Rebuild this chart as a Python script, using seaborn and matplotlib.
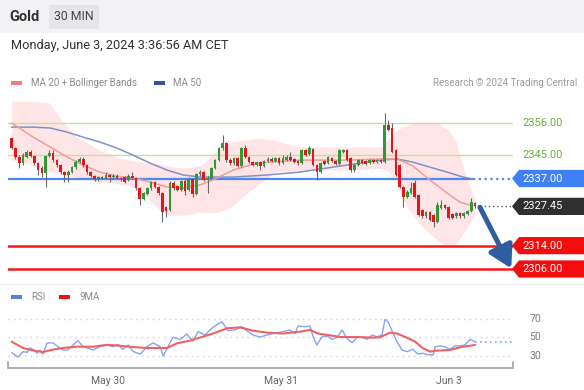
import matplotlib
matplotlib.use("Agg")
import matplotlib.pyplot as plt
import seaborn as sns
import numpy as np
import pandas as pd
from matplotlib.patches import Polygon, Rectangle
from matplotlib.transforms import blended_transform_factory

# ---------------- data ----------------
opens = [2350.9, 2347.4, 2344.4, 2342.3, 2344.4, 2346.1, 2344.7, 2342.3, 2340.6, 2338.9,
         2344.7, 2345.7, 2343.3, 2341.6, 2339.2, 2338.2, 2339.2, 2340.9, 2342.6, 2343.7,
         2341.6, 2339.2, 2337.9, 2336.8, 2337.5, 2337.2, 2338.2, 2337.5, 2337.9, 2337.2,
         2337.5, 2336.5, 2337.9, 2337.2, 2333.7, 2330.0, 2331.7, 2333.7, 2335.8, 2334.1,
         2332.0, 2327.2, 2326.2, 2335.5, 2334.4, 2333.1, 2336.1, 2333.1, 2336.8, 2331.7,
         2338.5, 2339.2, 2336.5, 2337.2, 2340.6, 2343.3, 2347.4, 2349.2, 2343.3, 2342.3,
         2344.0, 2341.3, 2347.4, 2344.4, 2342.6, 2341.6, 2342.6, 2341.3, 2343.0, 2343.7,
         2343.0, 2344.0, 2342.3, 2343.3, 2344.4, 2343.7, 2343.0, 2342.3, 2346.8, 2345.4,
         2347.1, 2341.6, 2339.2, 2343.0, 2342.3, 2344.0, 2343.0, 2342.0, 2346.1, 2346.8,
         2344.0, 2339.9, 2341.6, 2343.3, 2343.0, 2342.3, 2343.3, 2342.6, 2343.3, 2342.6,
         2355.3, 2354.3, 2346.8, 2341.6, 2334.1, 2330.7, 2332.0, 2335.5, 2331.3, 2326.2,
         2324.1, 2325.5, 2324.5, 2322.1, 2326.9, 2327.9, 2327.2, 2324.8, 2324.1, 2325.2,
         2324.1, 2324.8, 2325.8, 2328.6]
highs = [2351.2, 2347.8, 2345.0, 2345.6, 2346.8, 2346.8, 2345.2, 2342.8, 2341.2, 2345.2,
         2346.8, 2346.8, 2343.8, 2342.0, 2339.6, 2339.8, 2341.4, 2343.2, 2344.4, 2344.2,
         2342.0, 2339.6, 2338.3, 2338.0, 2338.0, 2339.2, 2338.6, 2338.4, 2338.4, 2337.6,
         2338.0, 2338.4, 2339.2, 2337.6, 2334.2, 2332.5, 2334.2, 2336.3, 2336.3, 2334.6,
         2332.5, 2327.7, 2336.0, 2336.0, 2334.9, 2336.6, 2336.8, 2337.5, 2337.2, 2339.0,
         2339.9, 2339.6, 2337.7, 2341.0, 2343.8, 2347.9, 2351.9, 2349.6, 2344.0, 2344.5,
         2344.4, 2347.9, 2348.5, 2344.8, 2343.0, 2343.0, 2343.0, 2343.5, 2344.2, 2344.2,
         2344.5, 2344.4, 2345.0, 2344.9, 2346.1, 2344.1, 2343.4, 2347.2, 2347.2, 2348.1,
         2347.5, 2342.0, 2342.8, 2343.4, 2344.8, 2344.4, 2343.4, 2347.2, 2347.2, 2347.2,
         2344.4, 2342.0, 2343.8, 2343.7, 2343.4, 2343.8, 2343.7, 2343.8, 2343.7, 2359.4,
         2357.0, 2356.0, 2347.2, 2342.0, 2334.6, 2332.9, 2335.8, 2336.5, 2331.8, 2326.6,
         2326.0, 2326.0, 2324.9, 2328.9, 2329.6, 2328.4, 2327.6, 2325.2, 2325.6, 2325.6,
         2325.6, 2326.3, 2330.3, 2329.0]
lows = [2347.0, 2343.8, 2340.6, 2341.8, 2344.0, 2344.2, 2341.8, 2338.2, 2337.5, 2334.1,
        2344.2, 2342.8, 2341.0, 2338.6, 2335.8, 2335.8, 2338.8, 2340.4, 2342.2, 2341.0,
        2338.6, 2337.4, 2336.3, 2336.3, 2336.7, 2336.8, 2335.8, 2337.0, 2336.7, 2336.3,
        2335.3, 2336.0, 2336.7, 2333.2, 2327.9, 2329.5, 2331.2, 2333.2, 2333.6, 2331.5,
        2322.1, 2323.8, 2325.7, 2333.2, 2332.6, 2332.6, 2331.3, 2332.6, 2330.7, 2331.2,
        2338.0, 2336.0, 2332.0, 2336.7, 2340.2, 2343.0, 2346.9, 2342.8, 2341.6, 2341.8,
        2340.8, 2340.9, 2344.0, 2342.2, 2341.2, 2341.2, 2339.9, 2340.9, 2342.6, 2342.6,
        2342.6, 2341.8, 2341.9, 2342.9, 2342.9, 2342.2, 2341.8, 2341.9, 2344.6, 2345.0,
        2341.2, 2336.5, 2338.8, 2341.6, 2341.9, 2342.6, 2341.6, 2341.6, 2345.6, 2342.9,
        2339.2, 2339.4, 2341.2, 2341.9, 2341.6, 2341.9, 2342.2, 2342.2, 2342.2, 2342.2,
        2353.2, 2345.6, 2337.7, 2333.6, 2327.2, 2330.2, 2331.6, 2330.2, 2324.0, 2323.6,
        2323.6, 2322.3, 2320.4, 2321.6, 2326.4, 2326.4, 2323.0, 2323.0, 2323.6, 2323.6,
        2323.6, 2324.4, 2325.4, 2326.9]
closes = [2347.4, 2344.4, 2342.3, 2345.0, 2346.1, 2344.7, 2342.3, 2339.9, 2338.9, 2344.7,
          2345.7, 2343.3, 2341.6, 2339.2, 2338.2, 2339.2, 2340.9, 2342.6, 2343.7, 2341.6,
          2339.2, 2337.9, 2336.8, 2337.5, 2337.2, 2338.2, 2337.5, 2337.9, 2337.2, 2336.8,
          2335.8, 2337.9, 2337.2, 2333.7, 2330.0, 2332.0, 2333.7, 2335.8, 2334.1, 2332.0,
          2325.5, 2325.8, 2335.5, 2333.7, 2333.1, 2336.1, 2332.7, 2336.8, 2331.7, 2338.5,
          2339.2, 2336.5, 2337.2, 2340.6, 2343.3, 2347.4, 2349.2, 2343.3, 2342.3, 2344.0,
          2341.3, 2347.4, 2344.4, 2342.6, 2341.6, 2342.6, 2341.3, 2343.0, 2343.7, 2343.0,
          2344.0, 2342.3, 2344.0, 2344.4, 2343.3, 2342.6, 2342.3, 2346.8, 2345.0, 2347.4,
          2341.6, 2339.2, 2342.3, 2342.0, 2344.4, 2343.0, 2342.0, 2346.8, 2346.8, 2343.3,
          2339.9, 2341.6, 2343.3, 2342.3, 2342.0, 2343.3, 2342.6, 2343.3, 2342.6, 2355.3,
          2353.6, 2346.1, 2338.2, 2334.1, 2330.7, 2332.4, 2333.7, 2330.7, 2324.5, 2324.1,
          2325.5, 2322.8, 2322.1, 2327.9, 2327.9, 2326.9, 2323.5, 2323.5, 2325.2, 2324.1,
          2325.2, 2325.8, 2328.9, 2327.45]

# Bollinger band (MA 20 +/- bands), sampled along the candle index
bb_idx = [0, 5, 10, 13, 17, 23, 28, 32, 36, 39, 42, 46, 50, 54, 58, 62, 66, 70, 74, 78,
          82, 87, 93, 98, 100, 102, 105, 109, 113, 116, 118, 120, 122, 123]
bb_upper = [2363.5, 2363.5, 2362.9, 2357.5, 2351.5, 2347.0, 2344.3, 2343.0, 2342.4, 2342.0,
            2341.1, 2340.6, 2341.3, 2346.0, 2349.6, 2350.2, 2350.8, 2350.0, 2348.5, 2347.8,
            2347.8, 2347.8, 2347.8, 2347.8, 2350.5, 2353.5, 2355.3, 2356.3, 2356.0, 2353.5,
            2349.5, 2340.5, 2333.0, 2329.6]
bb_lower = [2343.3, 2341.8, 2339.3, 2338.5, 2337.5, 2335.9, 2335.4, 2334.2, 2330.5, 2326.5,
            2324.5, 2324.4, 2325.5, 2325.2, 2327.0, 2331.5, 2335.5, 2339.2, 2339.7, 2339.9,
            2339.9, 2339.9, 2340.2, 2340.5, 2339.5, 2336.0, 2327.0, 2320.4, 2315.9, 2313.3,
            2314.5, 2318.5, 2322.5, 2325.0]
ma20_idx = [0, 5.7, 10.2, 14.7, 18.9, 23.4, 28.0, 32.2, 36.7, 41.2, 45.5, 50.0, 53.4, 58.8,
            63.3, 67.8, 76.5, 89.0, 97.8, 102.3, 106.5, 111.0, 115.6, 119.0, 122.5]
ma20_val = [2356.0, 2351.2, 2347.8, 2344.4, 2341.6, 2339.2, 2337.8, 2337.2, 2335.8, 2334.1,
            2333.7, 2334.8, 2336.5, 2339.9, 2341.6, 2342.6, 2343.3, 2343.3, 2343.7, 2343.7,
            2341.3, 2336.5, 2332.0, 2328.9, 2327.6]
ma50_idx = [0, 5.7, 10.2, 14.7, 18.9, 23.4, 28.0, 32.2, 36.7, 41.2, 45.5, 50.0, 54.5, 58.8,
            67.8, 76.5, 80.0, 89.0, 97.8, 102.3, 106.5, 111.0, 115.6, 119.8, 122.5]
ma50_val = [2354.6, 2354.6, 2354.3, 2352.9, 2351.2, 2349.5, 2347.4, 2345.0, 2342.3, 2339.9,
            2338.2, 2337.5, 2337.5, 2337.5, 2338.2, 2339.2, 2339.9, 2341.6, 2343.3, 2343.7,
            2342.6, 2340.9, 2339.2, 2337.5, 2336.8]

# RSI panel
rsi_idx = [0, 1.7, 3, 4.1, 4.9, 5.7, 6.7, 7.5, 8.3, 9.4, 11, 12.3, 13.6, 14.9, 16.3, 17.6,
           18.9, 20.3, 21.6, 23.4, 25.3, 26.9, 28.2, 29.5, 30.9, 32.2, 34.1, 35.9, 37.5, 39.4,
           40.2, 41.5, 42.8, 44.7, 46.5, 48.1, 49.5, 51.3, 53.4, 55.8, 57.4, 59.3, 61.1, 62.7,
           64.1, 65.9, 67.8, 69.4, 72, 73.9, 75.2, 76, 77.9, 79.2, 80, 81, 82.4, 83.7, 85,
           86.4, 87.7, 89, 90.4, 91.7, 93, 94.3, 95.7, 97, 98.3, 99.1, 99.9, 101.3, 102.3,
           103.6, 104.9, 106.5, 107.8, 109.2, 110.5, 111.9, 112.4, 113.7, 115, 116.3, 117.7,
           119, 120.3, 121.7, 123]
rsi_val = [33.6, 29, 34.7, 34, 38.6, 37, 33, 36.5, 32, 44, 44, 40, 36.5, 36.5, 41.8, 46.4,
           40, 38.3, 36.5, 40, 41.8, 40, 42.5, 37.2, 41.8, 35, 32, 40, 44, 40,
           30, 40, 50, 47.5, 53.5, 45.8, 56, 52.5, 60.6, 66.6, 57, 58, 61.3, 56,
           52.4, 50.3, 52.4, 54, 56, 57.7, 54, 62, 61.3, 62, 50.7, 41.8, 50.7, 51.4, 47.8,
           50, 57.8, 48.6, 44.3, 50, 50, 47.8, 52.4, 50.5, 52.4, 69, 66.6, 54, 45.3,
           36.5, 34.7, 37.2, 32.2, 33, 31.3, 31.3, 40, 40.8, 40, 37.2, 40.8,
           40.8, 41.8, 47.8, 45.3]
ma9_idx = [0, 3, 5.7, 8.3, 11, 13.6, 17.3, 21.6, 25.3, 28.8, 32.2, 35.9, 39.4, 41.2, 43.9,
           47.3, 50.8, 53.4, 57.2, 60.6, 64.1, 67.8, 72, 76.5, 79.2, 81.3, 84, 87.2, 91.7,
           95.9, 97.8, 100.4, 102.3, 104.9, 107.1, 109.2, 111.1, 112.9, 116.3, 119.8, 123]
ma9_val = [45.3, 38.6, 36, 34.3, 37, 38.6, 40, 40, 42, 41, 39.6, 38.6, 38.6, 38.6, 43.6,
           46.5, 50.7, 54, 59.6, 60.6, 57, 55, 54, 56, 57.8, 54, 52.4, 50.3, 50.3,
           49.6, 50, 55, 54, 49.6, 45.3, 38.3, 34.7, 35.8, 36.5, 40, 41.8]
rsi_levels = [70, 50, 30]

# levels / labels
resist_levels = [2356.00, 2345.00]
pivot_level = 2337.00
support_levels = [2314.00, 2306.00]
last_price = 2327.45
date_tick_idx = [25.6, 71.5, 116.1]
date_tick_lbl = ["May 30", "May 31", "Jun 3"]

assert len(opens) == len(highs) == len(lows) == len(closes)
assert len(bb_idx) == len(bb_upper) == len(bb_lower)
assert len(rsi_idx) == len(rsi_val) and len(ma9_idx) == len(ma9_val)

# ---------------- style ----------------
sns.set_theme(style="white")
plt.rcParams['font.family'] = ['Roboto', 'DejaVu Sans']

W, H = 584, 390
fig = plt.figure(figsize=(W / 100, H / 100), dpi=100)
fig.patch.set_facecolor("white")

def fx(px):
    return px / W

def fy(py):
    return 1 - py / H

# header band
fig.patches.append(Rectangle((0, fy(33)), 1, 33 / H, transform=fig.transFigure,
                             facecolor="#f3f3f5", edgecolor="none", zorder=0))
fig.text(fx(9), fy(17), "Gold", fontsize=10.5, fontweight="bold", color="#333333",
         va="center", ha="left")
fig.patches.append(Rectangle((fx(49), fy(29)), fx(50), 24 / H, transform=fig.transFigure,
                             facecolor="#e6e6e8", edgecolor="none", zorder=1))
fig.text(fx(74), fy(17), "30 MIN", fontsize=8.8, color="#444444", va="center", ha="center",
         zorder=2)
fig.text(fx(11), fy(46), "Monday, June 3, 2024 3:36:56 AM CET", fontsize=9.2,
         color="#333333", va="center", ha="left")

# legend (price)
fig.patches.append(Rectangle((fx(11), fy(85)), fx(11), 4 / H, transform=fig.transFigure,
                             facecolor="#f47c7c", edgecolor="none"))
fig.text(fx(31), fy(83), "MA 20 + Bollinger Bands", fontsize=7, color="#8a8a8a",
         va="center", ha="left")
fig.patches.append(Rectangle((fx(154), fy(85)), fx(11), 4 / H, transform=fig.transFigure,
                             facecolor="#2c56a0", edgecolor="none"))
fig.text(fx(173), fy(83), "MA 50", fontsize=7, color="#8a8a8a", va="center", ha="left")
fig.text(fx(577), fy(83), "Research \u00a9 2024 Trading Central", fontsize=7,
         color="#9a9a9a", va="center", ha="right")

# legend (RSI)
fig.patches.append(Rectangle((fx(11), fy(299)), fx(11), 4 / H, transform=fig.transFigure,
                             facecolor="#5b7fe0", edgecolor="none"))
fig.text(fx(31), fy(297), "RSI", fontsize=7, color="#8a8a8a", va="center", ha="left")
fig.patches.append(Rectangle((fx(59), fy(299)), fx(11), 4 / H, transform=fig.transFigure,
                             facecolor="#ee1111", edgecolor="none"))
fig.text(fx(79), fy(297), "9MA", fontsize=7, color="#8a8a8a", va="center", ha="left")

# faint separator
fig.lines.append(plt.Line2D([0, 1], [fy(284), fy(284)], transform=fig.transFigure,
                            color="#efefef", lw=1))

# ---------------- main price axes ----------------
X0, X1 = 8, 513
ax = fig.add_axes([fx(X0), 1 - 283 / H, (X1 - X0) / W, 183 / H])
n = len(closes)
idx = np.arange(n)
xmin = (X0 - 11.7) / 3.767
xmax = (X1 - 11.7) / 3.767
ax.set_xlim(xmin, xmax)
ax.set_ylim(2301.2, 2363.9)
ax.axis("off")

def axx(px):
    return (px - X0) / (X1 - X0)

trans = blended_transform_factory(ax.transAxes, ax.transData)

# bollinger band fill
ax.fill_between(bb_idx, bb_lower, bb_upper, color="#ff3b3b", alpha=0.13, lw=0, zorder=1)

# level lines
for lv in resist_levels:
    ax.axhline(lv, color="#c2e0a4", lw=1.0, zorder=2)
ax.plot([xmin, 122.5], [pivot_level, pivot_level], color="#4d88f2", lw=1.6, zorder=2,
        solid_capstyle="butt")
ax.plot([122.5, xmax], [pivot_level, pivot_level], color="#4d88f2", lw=1.6, zorder=2,
        ls=(0, (1, 1.6)))
for lv in support_levels:
    ax.axhline(lv, color="#f51a1a", lw=1.8, zorder=2)
ax.plot([124.2, xmax], [last_price, last_price], color="#555555", lw=1, zorder=2,
        ls=(0, (1, 2)))

# moving averages (seaborn)
sns.lineplot(x=ma50_idx, y=ma50_val, ax=ax, color="#7d93c8", lw=1.1, zorder=3,
             legend=False, sort=False)
sns.lineplot(x=ma20_idx, y=ma20_val, ax=ax, color="#f49a9a", lw=1.1, zorder=3,
             legend=False, sort=False)

# candles
o = np.array(opens); c = np.array(closes); h = np.array(highs); l = np.array(lows)
up = c >= o
ax.vlines(idx, l, h, color="#6a6a6a", lw=0.8, zorder=4)
body_h = np.where(np.abs(c - o) < 0.35, 0.35, np.abs(c - o))
ax.bar(idx[up], body_h[up], bottom=np.minimum(o, c)[up], width=0.7, color="#2f9a35",
       lw=0, zorder=5)
ax.bar(idx[~up], body_h[~up], bottom=np.minimum(o, c)[~up], width=0.7, color="#e3161c",
       lw=0, zorder=5)

# projection arrow
ax.annotate("", xy=(132.6, support_levels[1] + 0.2), xytext=(124.3, last_price - 0.3),
            arrowprops=dict(arrowstyle="-|>,head_width=0.55,head_length=0.95",
                            color="#2d5e9f", lw=3.6, mutation_scale=14,
                            shrinkA=0, shrinkB=0),
            annotation_clip=False, zorder=7)

# price tags on the right
def price_tag(price, text, face):
    hh = 2.95
    pts = [(axx(512), price), (axx(519), price + hh), (axx(586), price + hh),
           (axx(586), price - hh), (axx(519), price - hh)]
    ax.add_patch(Polygon(pts, closed=True, transform=trans, facecolor=face,
                         edgecolor="none", clip_on=False, zorder=8))
    ax.text(axx(522), price, text, transform=trans, color="white", fontsize=8,
            va="center", ha="left", clip_on=False, zorder=9)

for lv in resist_levels:
    ax.text(axx(522), lv, f"{lv:.2f}", transform=trans, color="#6aae3c", fontsize=8,
            va="center", ha="left", clip_on=False)
price_tag(pivot_level, f"{pivot_level:.2f}", "#3f80f4")
price_tag(last_price, f"{last_price:.2f}", "#303030")
for lv in support_levels:
    price_tag(lv, f"{lv:.2f}", "#f40d0d")

# ---------------- RSI axes ----------------
ax2 = fig.add_axes([fx(X0), 1 - 368 / H, (X1 - X0) / W, 63 / H])
ax2.set_xlim(xmin, xmax)
ax2.set_ylim(17.3, 84.4)
ax2.axis("off")
for lv in rsi_levels:
    ax2.axhline(lv, color="#cfcfcf", lw=1, ls=(0, (1, 3)), zorder=1)
sns.lineplot(x=rsi_idx, y=rsi_val, ax=ax2, color="#87a3f3", lw=1.0, zorder=3,
             legend=False, sort=False)
ax2.plot([rsi_idx[-1], xmax], [rsi_val[-1], rsi_val[-1]], color="#87a3f3", lw=1.2,
         ls=(0, (1, 2)), zorder=3)
sns.lineplot(x=ma9_idx, y=ma9_val, ax=ax2, color="#f06262", lw=1.5, zorder=4,
             legend=False, sort=False)
trans2 = blended_transform_factory(ax2.transAxes, ax2.transData)
for lv in rsi_levels:
    ax2.text(axx(535), lv, str(lv), transform=trans2, color="#7a7a7a", fontsize=7.5,
             va="center", ha="center", clip_on=False)

# bottom axis bracket
ax2.plot([0, 0, 1, 1], [0.09, 0, 0, 0.09], transform=ax2.transAxes, color="#a8a8a8",
         lw=1.3, clip_on=False, solid_joinstyle="miter")
trans3 = blended_transform_factory(ax2.transData, ax2.transAxes)
for t, lbl in zip(date_tick_idx, date_tick_lbl):
    ax2.text(t, -0.2, lbl, transform=trans3, color="#666666", fontsize=7.5,
             va="center", ha="center", clip_on=False)

fig.savefig("out.png", dpi=100, facecolor="white")
